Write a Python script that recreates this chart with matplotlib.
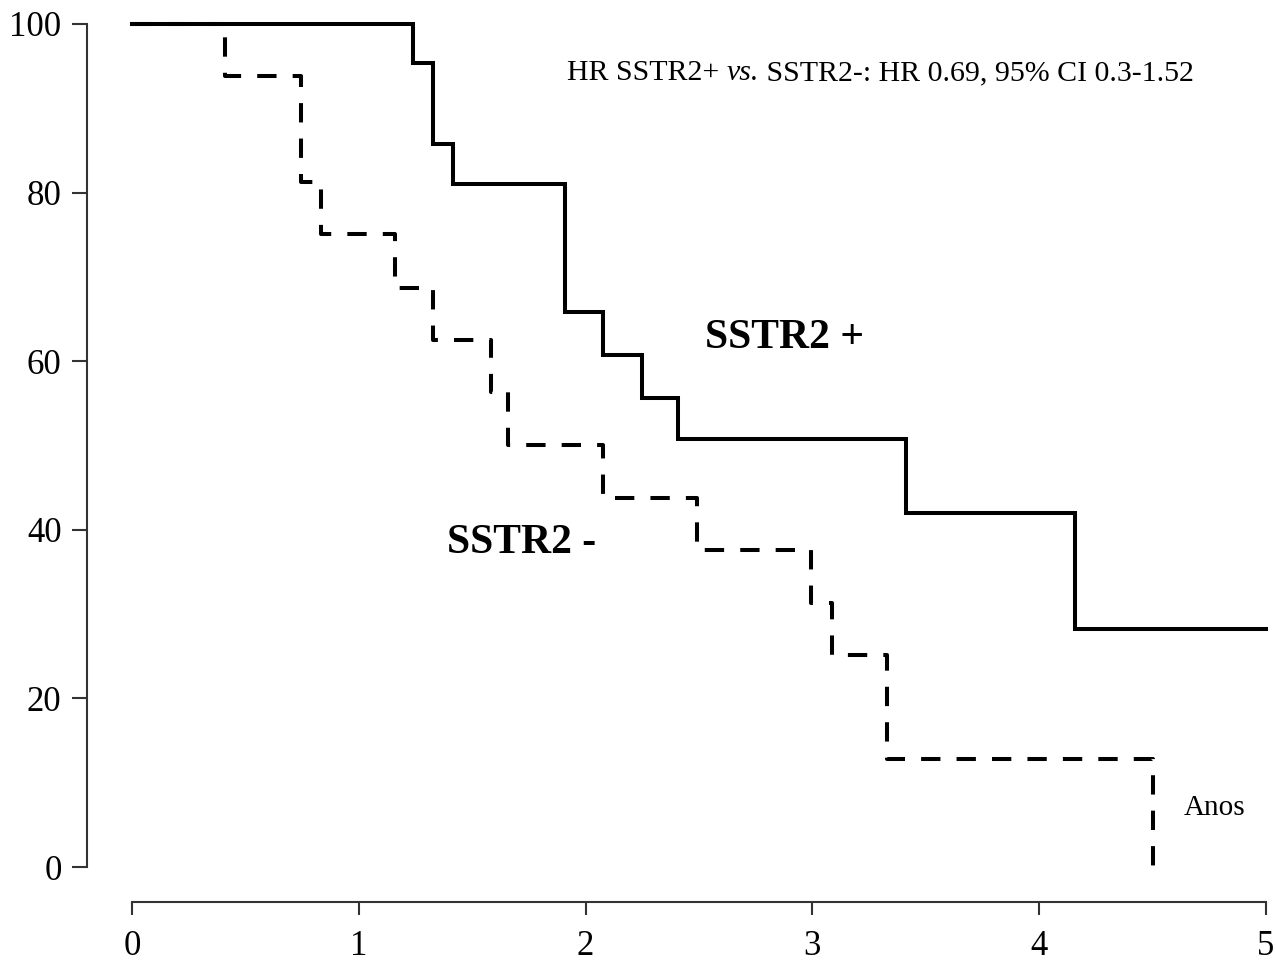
import matplotlib
matplotlib.use("Agg")
import matplotlib.pyplot as plt

plt.rcParams['font.family'] = ['Liberation Serif', 'DejaVu Serif']

# SSTR2+ (linha continua)
tempo_pos = [0, 1.239, 1.328, 1.415, 1.909, 2.077, 2.249, 2.407, 3.413, 4.158, 5.0]
sobrev_pos = [100, 95.4, 85.8, 81.0, 65.8, 60.7, 55.6, 50.8, 42.0, 28.2, 28.2]

# SSTR2- (linha tracejada)
tempo_neg = [0, 0.41, 0.745, 0.833, 1.16, 1.327, 1.583, 1.658, 2.077, 2.491, 2.994, 3.086, 3.329, 4.502]
sobrev_neg = [100, 93.8, 81.2, 75.1, 68.7, 62.5, 56.3, 50.0, 43.8, 37.6, 31.3, 25.1, 12.8, 0]

x_ticks = [0, 1, 2, 3, 4, 5]
y_ticks = [0, 20, 40, 60, 80, 100]

fig = plt.figure(figsize=(12.76, 9.63), dpi=100)
ax = fig.add_axes([132 / 1276, 96 / 963, 1134 / 1276, 843 / 963])

ax.step(tempo_pos, sobrev_pos, where='post', color='black', lw=2.9,
        clip_on=False, solid_joinstyle='miter')
ax.step(tempo_neg, sobrev_neg, where='post', color='black', lw=2.9,
        linestyle=(0, (4.8, 4.0)), clip_on=False, dash_capstyle='butt')

ax.set_xlim(0, 5)
ax.set_ylim(0, 100)
ax.set_xticks(x_ticks)
ax.set_yticks(y_ticks)

for s in ['top', 'right']:
    ax.spines[s].set_visible(False)
ax.spines['left'].set_position(('outward', 32.4))
ax.spines['bottom'].set_position(('outward', 25.2))
ax.spines['left'].set_bounds(0, 100)
ax.spines['bottom'].set_bounds(0, 5)
for s in ['left', 'bottom']:
    ax.spines[s].set_linewidth(1.5)
    ax.spines[s].set_color('#333333')

ax.tick_params(axis='y', length=10.8, width=1.5, color='#333333', labelsize=25, pad=7.5)
ax.tick_params(axis='x', length=9.4, width=1.5, color='#333333', labelsize=25, pad=10.5)

# texto do HR, com "vs." em italico
t1 = ax.text(1.918, 94.2, "HR SSTR2+ ", fontsize=21.5, va='center', ha='left')
t2 = ax.annotate("vs.", xy=(1, 0), xycoords=t1, fontsize=21.5, style='italic',
                 va='bottom', ha='left')
ax.annotate(" SSTR2-: HR 0.69, 95% CI 0.3-1.52", xy=(1, 0), xycoords=t2,
            fontsize=21.5, va='bottom', ha='left')

ax.text(2.527, 62.8, "SSTR2 +", fontsize=30, fontweight='bold', va='center', ha='left')
ax.text(1.389, 38.4, "SSTR2 -", fontsize=30, fontweight='bold', va='center', ha='left')
ax.text(4.638, 7.0, "Anos", fontsize=21, va='center', ha='left')

fig.savefig("out.png", dpi=100)
